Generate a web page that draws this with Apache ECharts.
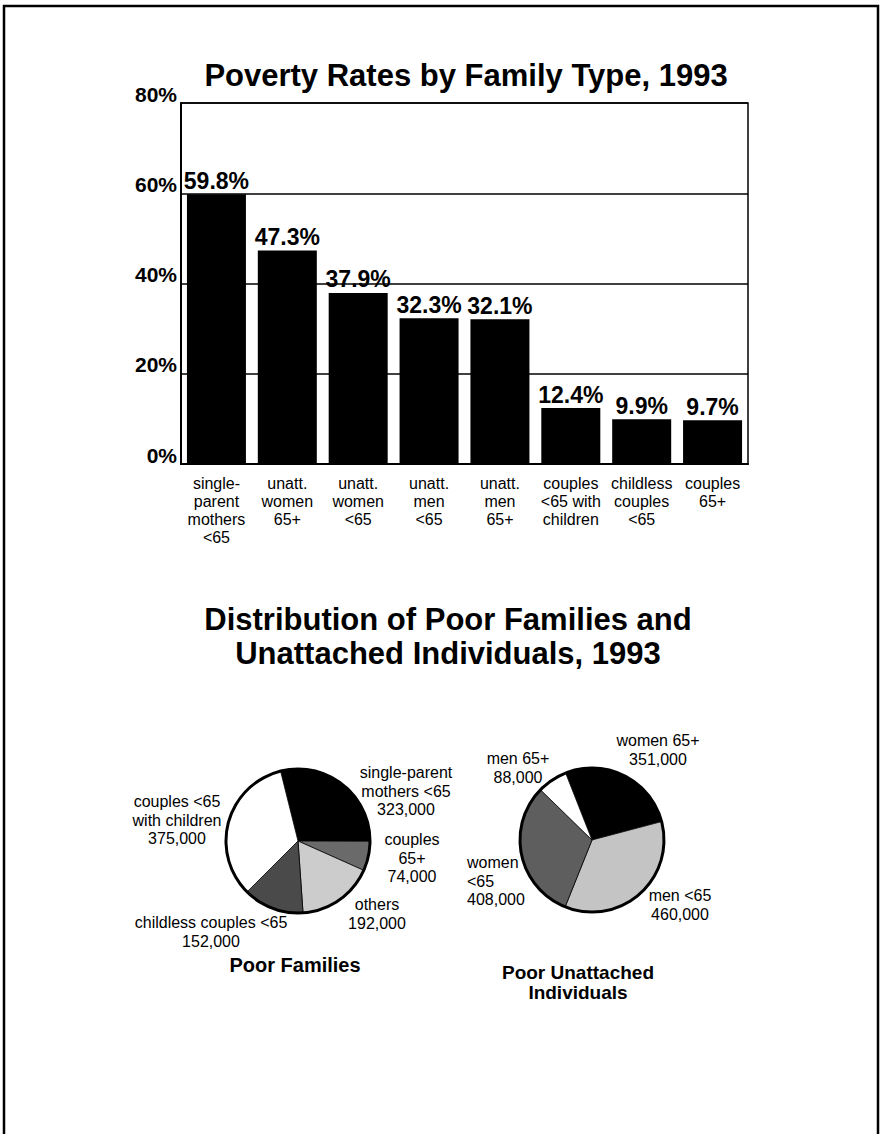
<!DOCTYPE html>
<html>
<head>
<meta charset="utf-8">
<title>Poverty Rates by Family Type, 1993</title>
<script src="https://cdn.jsdelivr.net/npm/echarts@6/dist/echarts.min.js"></script>
<style>
  html, body { margin: 0; padding: 0; background: #fff; }
  #chart { width: 882px; height: 1134px; }
</style>
</head>
<body>
<div id="chart"></div>
<script>
// Poverty rates by family type (%)
const categories = [
  'single-\nparent\nmothers\n<65',
  'unatt.\nwomen\n65+',
  'unatt.\nwomen\n<65',
  'unatt.\nmen\n<65',
  'unatt.\nmen\n65+',
  'couples\n<65 with\nchildren',
  'childless\ncouples\n<65',
  'couples\n65+'
];
const rates = [59.8, 47.3, 37.9, 32.3, 32.1, 12.4, 9.9, 9.7];
const rateTicks = [0, 20, 40, 60, 80];

// Poor families, 1993
const familyNames = [
  'single-parent\nmothers <65',
  'couples\n65+',
  'others',
  'childless couples <65',
  'couples <65\nwith children'
];
const familyCounts = [323000, 74000, 192000, 152000, 375000];

// Poor unattached individuals, 1993
const singleNames = ['women 65+', 'men <65', 'women\n<65', 'men 65+'];
const singleCounts = [351000, 460000, 408000, 88000];

// ---- styling and layout ----
const FONT = '"Liberation Sans", Arial, Helvetica, sans-serif';
const familyFills = ['#000000', '#6a6a6a', '#cccccc', '#4a4a4a', '#ffffff'];
const singleFills = ['#000000', '#c4c4c4', '#5e5e5e', '#ffffff'];

// label anchors for the pie slices (text block centres)
const familyLabelPos = [
  { x: 406, y: 791, align: 'center' },
  { x: 412, y: 858, align: 'center' },
  { x: 377, y: 914, align: 'center' },
  { x: 211, y: 932, align: 'center' },
  { x: 177, y: 820, align: 'center' }
];
const singleLabelPos = [
  { x: 658, y: 750, align: 'center' },
  { x: 680, y: 905, align: 'center' },
  { x: 467, y: 881, align: 'left' },
  { x: 518, y: 768, align: 'center' }
];

const fmt = v => v.toLocaleString('en-US');

function pieLayout(pos) {
  return function (p) {
    const a = pos[p.dataIndex];
    return { x: a.x, y: a.y, align: a.align, verticalAlign: 'middle', hideOverlap: false, moveOverlap: false };
  };
}

const pieLabel = {
  show: true,
  position: 'outside',
  formatter: p => p.name + '\n' + fmt(p.value),
  color: '#000',
  fontFamily: FONT,
  fontSize: 16,
  lineHeight: 18.5
};

const chart = echarts.init(document.getElementById('chart'), null, { renderer: 'svg' });

chart.setOption({
  animation: false,
  backgroundColor: '#fff',
  textStyle: { fontFamily: FONT, color: '#000' },
  title: [
    {
      text: 'Poverty Rates by Family Type, 1993',
      left: 461, top: 55, textAlign: 'center',
      textStyle: { fontFamily: FONT, fontSize: 31, fontWeight: 'bold', color: '#000' }
    },
    {
      text: 'Distribution of Poor Families and\nUnattached Individuals, 1993',
      left: 443, top: 597, textAlign: 'center',
      textStyle: { fontFamily: FONT, fontSize: 31, fontWeight: 'bold', color: '#000', lineHeight: 34 }
    },
    {
      text: 'Poor Families',
      left: 290, top: 950, textAlign: 'center',
      textStyle: { fontFamily: FONT, fontSize: 20, fontWeight: 'bold', color: '#000' }
    },
    {
      text: 'Poor Unattached\nIndividuals',
      left: 573, top: 957, textAlign: 'center',
      textStyle: { fontFamily: FONT, fontSize: 19, fontWeight: 'bold', color: '#000', lineHeight: 20 }
    }
  ],
  graphic: [
    {
      type: 'rect',
      shape: { x: 4, y: 6, width: 874, height: 1160 },
      style: { fill: 'none', stroke: '#000', lineWidth: 2.5 },
      silent: true
    }
  ],
  grid: {
    left: 181, top: 103, width: 567, height: 361,
    show: true, borderColor: '#000', borderWidth: 1.5, backgroundColor: 'transparent'
  },
  xAxis: {
    type: 'category',
    data: categories,
    axisLine: { lineStyle: { color: '#000', width: 2 } },
    axisTick: { show: false },
    axisLabel: {
      interval: 0, margin: 10, color: '#000',
      fontFamily: FONT, fontSize: 16, lineHeight: 18
    }
  },
  yAxis: {
    type: 'value',
    min: rateTicks[0], max: rateTicks[rateTicks.length - 1], interval: 20,
    axisLine: { show: true, lineStyle: { color: '#000', width: 2 } },
    axisTick: { show: false },
    splitLine: { lineStyle: { color: '#000', width: 1.5 } },
    axisLabel: {
      formatter: '{value}%', margin: 4, color: '#000',
      fontFamily: FONT, fontSize: 21, fontWeight: 'bold',
      verticalAlign: 'bottom', lineHeight: 18
    }
  },
  series: [
    {
      type: 'bar',
      data: rates,
      barWidth: 59,
      itemStyle: { color: '#000' },
      label: {
        show: true, position: 'top', distance: 2,
        formatter: p => p.value.toFixed(1) + '%',
        color: '#000', fontFamily: FONT, fontSize: 23, fontWeight: 'bold'
      },
      silent: true
    },
    {
      type: 'pie',
      center: [298, 841], radius: 72,
      startAngle: 104, clockwise: true,
      data: familyNames.map((n, i) => ({ name: n, value: familyCounts[i], itemStyle: { color: familyFills[i] } })),
      itemStyle: { borderColor: '#000', borderWidth: 0.8 },
      label: pieLabel,
      labelLine: { show: false },
      labelLayout: pieLayout(familyLabelPos),
      emphasis: { disabled: true },
      silent: true
    },
    {
      type: 'pie',
      center: [592, 840], radius: 72,
      startAngle: 111.5, clockwise: true,
      data: singleNames.map((n, i) => ({ name: n, value: singleCounts[i], itemStyle: { color: singleFills[i] } })),
      itemStyle: { borderColor: '#000', borderWidth: 0.8 },
      label: pieLabel,
      labelLine: { show: false },
      labelLayout: pieLayout(singleLabelPos),
      emphasis: { disabled: true },
      silent: true
    },
    // outer rims drawn over each pie
    {
      type: 'pie', center: [298, 841], radius: 72,
      data: [{ value: 1, name: 'rim' }],
      itemStyle: { color: 'transparent', borderColor: '#000', borderWidth: 3 },
      label: { show: false }, labelLine: { show: false },
      emphasis: { disabled: true }, silent: true
    },
    {
      type: 'pie', center: [592, 840], radius: 72,
      data: [{ value: 1, name: 'rim' }],
      itemStyle: { color: 'transparent', borderColor: '#000', borderWidth: 3 },
      label: { show: false }, labelLine: { show: false },
      emphasis: { disabled: true }, silent: true
    }
  ]
});
</script>
</body>
</html>
